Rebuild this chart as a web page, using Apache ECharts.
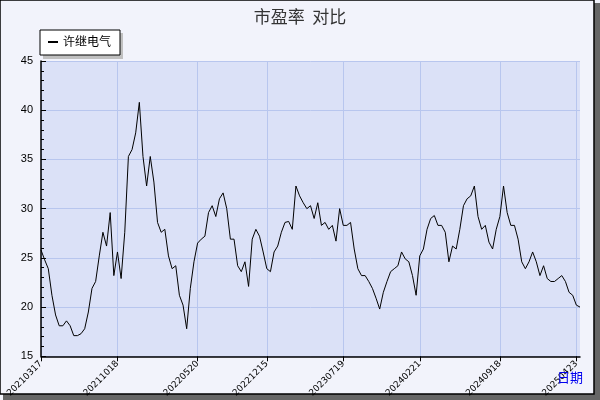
<!DOCTYPE html>
<html><head><meta charset="utf-8">
<script src="https://cdn.jsdelivr.net/npm/echarts@6/dist/echarts.min.js"></script>
<style>html,body{margin:0;padding:0;background:#fff}#c{width:600px;height:400px}</style>
</head><body><div id="c"></div>
<script>
const seriesName = '许继电气';
const peValues = [25.8,24.8,23.9,21.2,19.2,18.1,18.1,18.6,18.1,17.1,17.1,17.3,17.8,19.5,21.9,22.6,25.2,27.6,26.2,29.6,23.2,25.6,22.9,27.6,35.3,36.0,37.7,40.8,35.3,32.3,35.3,32.7,28.6,27.6,27.9,25.2,23.9,24.2,21.2,20.2,17.8,21.9,24.6,26.5,26.9,27.2,29.6,30.3,29.2,31.0,31.6,30.0,26.9,26.9,24.2,23.6,24.6,22.1,26.9,27.9,27.2,25.6,23.9,23.6,25.6,26.2,27.6,28.6,28.7,27.9,32.3,31.3,30.6,30.0,30.3,29.0,30.6,28.3,28.6,27.9,28.3,26.7,30.0,28.3,28.3,28.6,25.9,23.9,23.2,23.2,22.6,21.9,20.9,19.8,21.5,22.6,23.6,23.9,24.2,25.6,24.9,24.6,23.2,21.2,25.2,25.9,27.9,29.0,29.3,28.3,28.3,27.6,24.6,26.2,25.9,27.9,30.3,31.0,31.3,32.3,29.2,27.9,28.3,26.6,25.9,27.9,29.2,32.3,29.6,28.3,28.3,26.9,24.6,23.9,24.6,25.6,24.6,23.2,24.2,22.9,22.6,22.6,22.9,23.2,22.6,21.5,21.2,20.2,20.0];
const tickIndex = [0,21,43,62,83,104,126,147];
const tickLabels = ['20210317','20211018','20220520','20221215','20230719','20240221','20240918','20250423'];
const yTicks = [15,20,25,30,35,40,45];

const cats = peValues.map((v,i)=>{const k=tickIndex.indexOf(i);return k>=0?tickLabels[k]:'p'+i;});
const isTick = i => tickIndex.indexOf(i)>=0;
const chart = echarts.init(document.getElementById('c'));
chart.setOption({
  backgroundColor:'#f2f3fb',
  animation:false,
  title:{text:'市盈率  对比',left:'center',top:3,textStyle:{fontSize:17,fontWeight:'normal',color:'#333',fontFamily:'Noto Sans CJK SC'}},
  graphic:[
    {type:'rect',shape:{x:3,y:3,width:597,height:397},style:{fill:'#666'},z:-10,silent:true},
    {type:'rect',shape:{x:0,y:0,width:594,height:394},style:{fill:'#f2f3fb',stroke:'#000',lineWidth:1.5},z:-9,silent:true},
    {type:'rect',shape:{x:43,y:33,width:80,height:26},style:{fill:'#c0c0c0'},z:5},
    {type:'rect',shape:{x:40,y:30,width:80,height:25},style:{fill:'#fff',stroke:'#000',lineWidth:1},z:6},
    {type:'line',shape:{x1:48,y1:42,x2:58,y2:42},style:{stroke:'#000',lineWidth:2},z:7},
    {type:'text',x:63,y:35,style:{text:seriesName,font:'12px "Noto Sans CJK SC"',fill:'#000'},z:7},
    {type:'text',x:557,y:371,style:{text:'日期',font:'13px "Noto Sans CJK SC"',fill:'#0000ee'},z:7}
  ],
  grid:{left:41,top:61,right:20,bottom:42,show:true,backgroundColor:'#dbe1f7',borderWidth:0},
  xAxis:{type:'category',data:cats,boundaryGap:false,
    axisLine:{lineStyle:{color:'#000',width:1.5}},
    axisTick:{interval:(i)=>isTick(i),length:5,inside:false,lineStyle:{color:'#000'}},
    splitLine:{show:true,interval:(i)=>isTick(i),lineStyle:{color:'#b8c6ee'}},
    axisLabel:{interval:(i)=>isTick(i),rotate:45,fontSize:9,color:'#000',margin:6,fontFamily:'DejaVu Sans'}},
  yAxis:{type:'value',min:15,max:45,interval:5,
    axisLine:{show:true,lineStyle:{color:'#000',width:1.5}},
    axisTick:{show:true,inside:true,length:5,lineStyle:{color:'#000'}},
    minorTick:{show:true,splitNumber:5,length:3,lineStyle:{color:'#000'}},
    splitLine:{lineStyle:{color:'#b8c6ee'}},
    axisLabel:{color:'#000',fontSize:11,formatter:v=>yTicks.includes(v)?String(v):''}},
  series:[{name:seriesName,type:'line',data:peValues,symbol:'none',lineStyle:{color:'#000',width:1}}]
});
</script></body></html>
